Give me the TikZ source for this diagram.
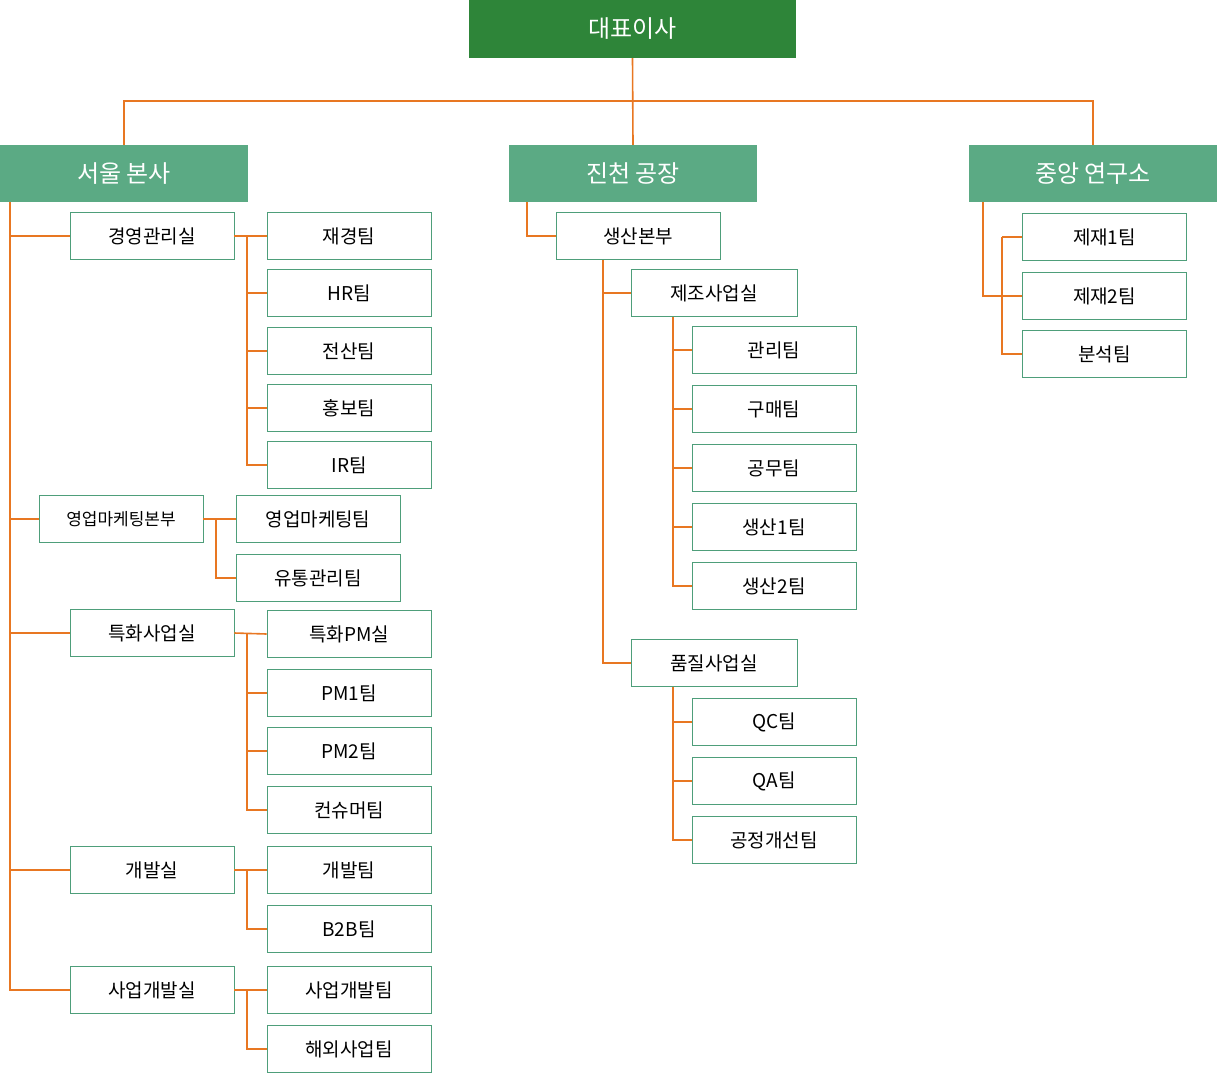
\documentclass[tikz,border=0pt]{standalone}
\usepackage{fontspec}
\setmainfont{Noto Sans CJK KR}
\usetikzlibrary{positioning}
\definecolor{ceo}{HTML}{2E8539}
\definecolor{divc}{HTML}{5BAA84}
\definecolor{edge}{HTML}{4E9E7A}
\definecolor{wire}{HTML}{E87722}
\begin{document}
\begin{tikzpicture}[x=1pt, y=-1pt, link/.style={wire, line width=1.6pt}]
    \tikzstyle{top}=[fill=ceo, text=white, minimum width=327pt, minimum height=58pt, font=\fontsize{24}{28}\selectfont]
    \tikzstyle{div}=[fill=divc, text=white, minimum width=248pt, minimum height=57pt, font=\fontsize{24}{28}\selectfont]
    \tikzstyle{box}=[draw=edge, line width=0.8pt, fill=white, minimum width=164pt, minimum height=47pt, font=\fontsize{19}{22}\selectfont, inner sep=0pt]
    \useasboundingbox (0,0) rectangle (1218,1077);

    % top and divisions
    \node[top] (ceo)   at (632.5,29)  {대표이사};
    \node[div] (seoul) at (124,173.5) {서울 본사};
    \node[div] (jin)   at (633,173.5) {진천 공장};
    \node[div] (lab)   at (1093,173.5) {중앙 연구소};
    \coordinate (hub) at (632,101);
    \draw[link] (ceo.south) -- (jin.north);
    \draw[link] (seoul.north) |- (hub) -| (lab.north);

    % Seoul
    \node[box] (gy)  at (152,236) {경영관리실};
    \node[box] (gy1) at (349,236) {재경팀};
    \node[box] (gy2) at (349,293) {HR팀};
    \node[box] (gy3) at (349,351) {전산팀};
    \node[box] (gy4) at (349,408) {홍보팀};
    \node[box] (gy5) at (349,465) {IR팀};
    \node[box, font=\fontsize{17}{20}\selectfont] (ym) at (121,519) {영업마케팅본부};
    \node[box] (ym1) at (318,519) {영업마케팅팀};
    \node[box] (ym2) at (318,578) {유통관리팀};
    \node[box] (tk)  at (152,633) {특화사업실};
    \node[box] (tk1) at (349,634) {특화PM실};
    \node[box] (tk2) at (349,693) {PM1팀};
    \node[box] (tk3) at (349,751) {PM2팀};
    \node[box] (tk4) at (349,810) {컨슈머팀};
    \node[box] (gb)  at (152,870) {개발실};
    \node[box] (gb1) at (349,870) {개발팀};
    \node[box] (gb2) at (349,929) {B2B팀};
    \node[box] (sb)  at (152,990) {사업개발실};
    \node[box] (sb1) at (349,990) {사업개발팀};
    \node[box] (sb2) at (349,1049) {해외사업팀};

    \coordinate (sS) at (10,202);
    \draw[link] (sS) |- (sb.west);
    \foreach \n in {gy,ym,tk,gb} \draw[link] (sS |- \n.west) -- (\n.west);
    \draw[link] (gy.east) -- (gy1.west);
    \draw[link] (gy1.west -| 247,0) |- (gy5.west);
    \foreach \n in {gy2,gy3,gy4} \draw[link] (247,0 |- \n.west) -- (\n.west);
    \draw[link] (ym.east) -- (ym1.west);
    \draw[link] (ym1.west -| 216,0) |- (ym2.west);
    \draw[link] (tk.east) -- (tk1.west);
    \draw[link] (tk1.west -| 247,0) |- (tk4.west);
    \foreach \n in {tk2,tk3} \draw[link] (247,0 |- \n.west) -- (\n.west);
    \draw[link] (gb.east) -- (gb1.west);
    \draw[link] (gb1.west -| 247,0) |- (gb2.west);
    \draw[link] (sb.east) -- (sb1.west);
    \draw[link] (sb1.west -| 247,0) |- (sb2.west);

    % Jincheon
    \node[box] (sc)  at (638,236) {생산본부};
    \node[box, minimum width=166pt] (jj) at (714,293) {제조사업실};
    \node[box] (jj1) at (774,350) {관리팀};
    \node[box] (jj2) at (774,409) {구매팀};
    \node[box] (jj3) at (774,468) {공무팀};
    \node[box] (jj4) at (774,527) {생산1팀};
    \node[box] (jj5) at (774,586) {생산2팀};
    \node[box, minimum width=166pt] (pj) at (714,663) {품질사업실};
    \node[box] (pj1) at (774,722) {QC팀};
    \node[box] (pj2) at (774,781) {QA팀};
    \node[box] (pj3) at (774,840) {공정개선팀};

    \draw[link] (527,202) |- (sc.west);
    \draw[link] (603,0 |- sc.south) |- (pj.west);
    \draw[link] (603,0 |- jj.west) -- (jj.west);
    \draw[link] (673,0 |- jj.south) |- (jj5.west);
    \foreach \n in {jj1,jj2,jj3,jj4} \draw[link] (673,0 |- \n.west) -- (\n.west);
    \draw[link] (673,0 |- pj.south) |- (pj3.west);
    \foreach \n in {pj1,pj2} \draw[link] (673,0 |- \n.west) -- (\n.west);

    % Lab
    \node[box] (lb1) at (1104.5,237) {제재1팀};
    \node[box] (lb2) at (1104.5,296) {제재2팀};
    \node[box] (lb3) at (1104.5,354) {분석팀};
    \draw[link] (983,202) |- (lb2.west);
    \draw[link] (1002,0 |- lb1.west) |- (lb3.west);
    \draw[link] (1002,0 |- lb1.west) -- (lb1.west);
\end{tikzpicture}
\end{document}
